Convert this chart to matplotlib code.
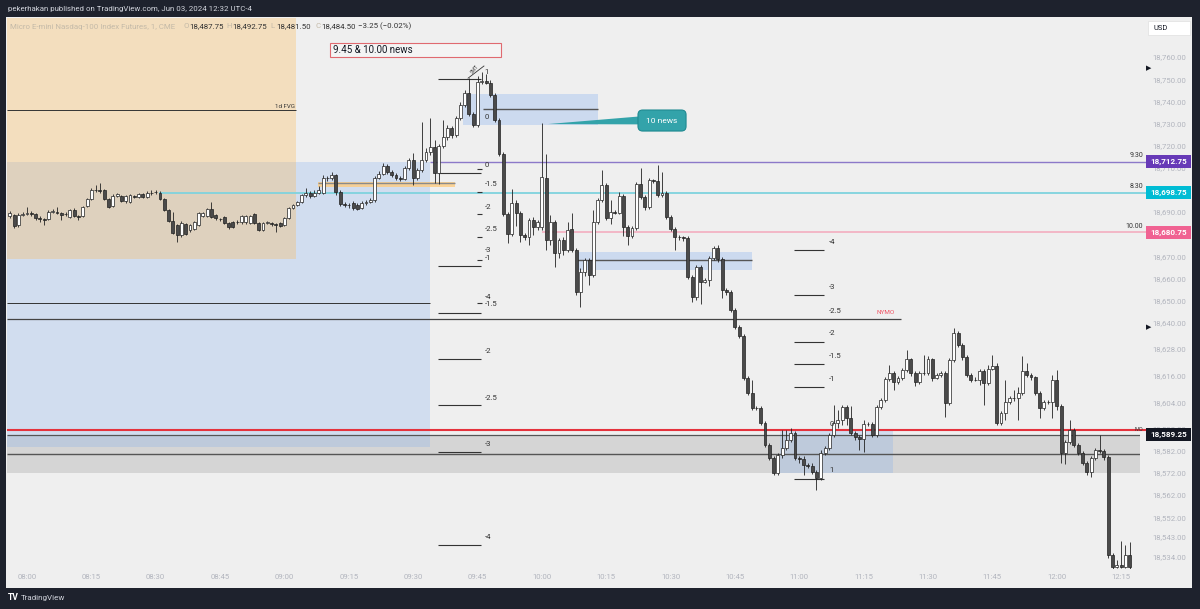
import numpy as np
import pandas as pd
import matplotlib.pyplot as plt
import matplotlib.transforms as mtrans
from matplotlib.patches import Rectangle, Polygon, FancyBboxPatch

plt.rcParams['font.family'] = ['Roboto', 'DejaVu Sans']

# 1-minute MNQ candles, 07:56 -> 12:17
opens = [
    18688.25, 18688.5, 18684, 18688.5, 18689, 18689.5, 18689, 18687.25, 18686.75, 18686.75,
    18690, 18690, 18689.5, 18689, 18687.75, 18691, 18688.25, 18688.25, 18692.75, 18696,
    18700, 18699.75, 18700, 18696, 18692.75, 18697.25, 18697.25, 18695, 18694.5, 18697.25,
    18696.75, 18698, 18696.75, 18698.5, 18699, 18698.5, 18696, 18691, 18686, 18684,
    18679.5, 18684.5, 18681.75, 18682.25, 18684, 18688.25, 18688.25, 18691.25, 18688.5, 18686.75,
    18687.75, 18685, 18685.5, 18685.5, 18685.5, 18685.5, 18685, 18689, 18685, 18681.75,
    18685, 18685, 18684.5, 18685, 18684, 18687.25, 18691.75, 18693,
    18694.5, 18697.75, 18698.5, 18697.25, 18698.5, 18698.5, 18705.25, 18705.5, 18706.75, 18699,
    18693.5, 18693.25, 18694, 18693.25, 18691.75, 18694, 18694.5, 18695.5, 18705.25, 18707.25,
    18710.75, 18708, 18706.75, 18705.25, 18705, 18709.75, 18713.5, 18705.25, 18709, 18713.5,
    18717, 18719.25, 18707.5, 18719.75, 18724, 18728, 18724.75, 18732.5, 18738.25, 18743.75,
    18734.25, 18729.25, 18748.75, 18749, 18748.5, 18742.75, 18731.5, 18716.25, 18689, 18680,
    18694, 18689.5, 18679.5, 18678.75, 18686.25, 18683.25, 18683.25, 18705.25, 18677.25, 18685.5,
    18671.5, 18677.25, 18672.75, 18682.5, 18672.75, 18653.75, 18663, 18668.25, 18661.5, 18685.5,
    18695.5, 18702.25, 18687.25, 18690, 18689.75, 18697.25, 18683.25, 18679, 18682.75, 18702.5,
    18696.75, 18692.25, 18704.5, 18704, 18697.75, 18698.5, 18687.75, 18682.25, 18678.75, 18678.5,
    18678.25, 18660.5, 18651.5, 18665, 18658.25, 18659.25, 18669.25, 18673.75, 18668.75, 18654.75,
    18653.75, 18645.75, 18638, 18634, 18615, 18608.25, 18601.5, 18601.25, 18594.5, 18584.75,
    18578.75, 18572, 18580.25, 18583.25, 18587, 18590, 18578.75, 18578.5, 18575.5, 18575.25,
    18572.5, 18569.75, 18581, 18583.25, 18589.25, 18594.5, 18596, 18602, 18597, 18590,
    18588.25, 18587.5, 18594.25, 18594, 18589.25, 18602, 18605, 18614.5, 18617.25, 18613,
    18614.75, 18618.5, 18623.5, 18617.25, 18613, 18617.25, 18617, 18623.5, 18614.75, 18616.25,
    18617.25, 18603.75, 18623, 18635.25, 18629.75, 18624.5, 18616.25, 18614, 18614.25, 18618,
    18612.75, 18619, 18620.25, 18594.5, 18599, 18604, 18606, 18605.75, 18608.25, 18618,
    18616.25, 18615.25, 18608.25, 18601.5, 18604, 18604.25, 18614, 18602.25, 18581, 18586,
    18591.5, 18584.75, 18581, 18576.5, 18572.5, 18578.75, 18582.5, 18582, 18579.25, 18535,
    18529.5, 18530.5, 18529.5, 18535,
]
highs = [
    18690.5, 18689, 18689.5, 18690, 18692.25, 18690.5, 18689.5, 18688.25, 18687.25, 18690.75,
    18691.25, 18692.25, 18690, 18690, 18691.25, 18691.75, 18688.5, 18692.75, 18696.25, 18700.75,
    18702.25, 18703, 18700.5, 18696.25, 18698, 18698.5, 18697.75, 18697.75, 18698, 18697.75,
    18698.5, 18698.5, 18699.5, 18700, 18700, 18699.5, 18696.25, 18691.25, 18690, 18684.5,
    18686, 18685, 18684.5, 18686, 18690, 18690, 18691.75, 18694.5, 18689, 18687.25,
    18688.25, 18685.5, 18686, 18686.5, 18688.5, 18688.5, 18688.5, 18689.5, 18685.5, 18685.5,
    18685.75, 18685.5, 18685, 18685.5, 18687.75, 18692.25, 18693.5, 18695,
    18698, 18700.75, 18699.5, 18700, 18701.75, 18706.75, 18706.25, 18708, 18707.25, 18700,
    18694.5, 18694, 18695, 18694, 18695, 18695.5, 18696.25, 18706.25, 18708.5, 18712,
    18711.75, 18709, 18707.5, 18706.25, 18710.75, 18714.5, 18716.75, 18709.75, 18730.75, 18719,
    18732.5, 18722.5, 18720.75, 18731.5, 18729.25, 18728.75, 18733.25, 18739.75, 18745, 18750.5,
    18735.25, 18751.5, 18753.25, 18752.5, 18749.75, 18743.75, 18732.5, 18717, 18690, 18700.25,
    18695.5, 18690.5, 18680.5, 18687.25, 18687.75, 18686.25, 18730.25, 18716.25, 18688.5, 18686.25,
    18678.25, 18678.75, 18685.5, 18689.5, 18673.75, 18664.75, 18669.25, 18669.25, 18690.75, 18696.25,
    18709, 18703, 18695.5, 18690.75, 18699, 18698, 18684, 18683.75, 18703.5, 18709.75,
    18697.75, 18705.25, 18705, 18711.25, 18708, 18699.5, 18688.5, 18683.25, 18679.5, 18679,
    18679, 18661.5, 18666, 18666, 18660.25, 18670, 18674.5, 18675, 18669.75, 18655.5,
    18654.75, 18646.5, 18639, 18634.75, 18615.75, 18614, 18602.25, 18602.25, 18595.5, 18585.5,
    18579.75, 18581, 18591.5, 18591.5, 18592.25, 18591, 18579.75, 18579.75, 18576.5, 18576.5,
    18573.25, 18582.5, 18584.25, 18590, 18602.75, 18600.5, 18602.75, 18602.75, 18602.25, 18591,
    18589.25, 18596, 18595, 18595, 18602.75, 18606, 18615.5, 18620.75, 18618, 18615.75,
    18619.5, 18627.5, 18624, 18618, 18618, 18625.25, 18624.75, 18624, 18617.25, 18618,
    18618, 18624, 18637.5, 18636.25, 18630.75, 18625.25, 18617.25, 18615.5, 18619, 18619,
    18620.75, 18625.25, 18621.75, 18600, 18614, 18606.75, 18609.5, 18611, 18624.75, 18621.75,
    18617.25, 18615.75, 18609, 18605, 18605, 18616.25, 18618.5, 18603.25, 18587, 18596,
    18592.25, 18585.5, 18582, 18577.5, 18579.75, 18583.25, 18589.25, 18582.75, 18580.25, 18535.75,
    18532.75, 18541.25, 18539.5, 18540.75,
]
lows = [
    18687.25, 18682.75, 18683.25, 18688.25, 18688.5, 18688.25, 18686.5, 18685.5, 18684, 18686.5,
    18689.5, 18689, 18686.5, 18688.25, 18687.25, 18687.75, 18686.5, 18687.75, 18692.25, 18695.5,
    18699, 18698.5, 18695.5, 18691.75, 18692.25, 18696.75, 18694.5, 18694, 18694, 18696.25,
    18696.25, 18696.25, 18696.25, 18697.75, 18698, 18695.5, 18690.5, 18685.5, 18680, 18676.5,
    18678.75, 18679.5, 18681, 18681.75, 18683.5, 18687.75, 18687.75, 18687.25, 18686.5, 18686,
    18684.5, 18682.25, 18682.75, 18684.5, 18684.5, 18684.5, 18684.5, 18684.5, 18681.5, 18681.5,
    18684.5, 18683.5, 18681, 18683.25, 18683.5, 18686.75, 18691.25, 18692.75,
    18694, 18696.75, 18696.25, 18696.75, 18698, 18698, 18704, 18704.5, 18697.75, 18692.75,
    18692.25, 18691.75, 18690.75, 18690.75, 18691.25, 18693, 18694, 18694.5, 18705, 18706.75,
    18707.25, 18705.75, 18704.5, 18704, 18704.5, 18709, 18702.25, 18704.5, 18708, 18712.5,
    18715.75, 18703, 18702.75, 18719, 18722.5, 18723.5, 18724, 18731.5, 18737.5, 18733.25,
    18728.5, 18728.5, 18747.75, 18747.75, 18742, 18730.75, 18715.25, 18688.25, 18676, 18679,
    18683.75, 18676.5, 18677.25, 18675, 18679.5, 18681.75, 18681.75, 18672.75, 18675, 18665,
    18669.25, 18670.5, 18672, 18672, 18652.5, 18647, 18661, 18657, 18660.5, 18684.5,
    18694.5, 18686.25, 18684.5, 18689, 18689, 18679, 18675, 18678.25, 18681.75, 18695.75,
    18690.75, 18691.25, 18703, 18696.75, 18696.75, 18686.75, 18681.5, 18672.75, 18677.25, 18676.75,
    18659.75, 18649.25, 18650.25, 18648.5, 18657.75, 18656.5, 18668.25, 18667.5, 18651, 18652.5,
    18644.75, 18637, 18633, 18614, 18607.25, 18600.5, 18600.5, 18593.75, 18583.75, 18577.75,
    18571, 18571, 18578.75, 18582.5, 18586, 18577.75, 18576.5, 18571, 18574.25, 18571.5,
    18564.25, 18568.75, 18580.25, 18582.5, 18588.25, 18592.25, 18593.75, 18593.75, 18589.25, 18587,
    18582.5, 18581.5, 18593.25, 18588.25, 18588.25, 18601, 18604, 18613.5, 18609.5, 18612.25,
    18614, 18617.75, 18615.75, 18611.25, 18612.25, 18616.25, 18616.25, 18613.5, 18614.5, 18615.5,
    18597.25, 18602.75, 18622.25, 18629, 18623, 18615.5, 18613, 18613.5, 18611.75, 18602.75,
    18611.75, 18618.5, 18593.75, 18593.75, 18596, 18603.25, 18604.5, 18596, 18607.25, 18615.5,
    18614, 18607.25, 18597, 18600.5, 18603.25, 18597, 18600.5, 18576.5, 18576, 18585,
    18583.75, 18580.25, 18575.5, 18571, 18570.25, 18577.75, 18581, 18577.75, 18533.5, 18528.5,
    18529, 18529, 18529, 18528.5,
]
closes = [
    18689.5, 18683.75, 18688.5, 18689, 18689.5, 18689, 18687.25, 18686.75, 18686.5, 18690,
    18690.5, 18689.5, 18688.5, 18689, 18691, 18688.25, 18687.75, 18692.25, 18696, 18700,
    18699.75, 18699.5, 18696, 18692.25, 18697.25, 18698, 18695, 18697.25, 18697.75, 18696.75,
    18698, 18696.75, 18698.5, 18698.75, 18699.25, 18696, 18691, 18686, 18680.5, 18679.5,
    18685, 18680, 18684, 18685.5, 18689.5, 18689.5, 18691.25, 18687.75, 18687.25, 18687,
    18685, 18683.25, 18683.25, 18685.25, 18688.25, 18688.25, 18688.25, 18685, 18681.75, 18685,
    18685.25, 18684.5, 18684.25, 18683.75, 18687.25, 18691.75, 18693, 18694.5,
    18697.75, 18698.5, 18697.25, 18698.5, 18700, 18705.25, 18705.5, 18706.75, 18699, 18693.5,
    18693.25, 18693, 18691.75, 18691.5, 18694, 18694.5, 18695.5, 18705.25, 18707.25, 18710.75,
    18708, 18706.75, 18705.25, 18705, 18709.75, 18713.5, 18705.25, 18709, 18713.5, 18717,
    18719.25, 18707.5, 18719.75, 18724, 18728, 18724.75, 18732.5, 18738.25, 18743.75, 18734.25,
    18729.25, 18748.75, 18749, 18748.5, 18742.75, 18731.5, 18716.25, 18689, 18680, 18694,
    18689.5, 18679.5, 18678.75, 18686.25, 18683.25, 18685.5, 18705.75, 18677.25, 18685.5, 18671.5,
    18677.25, 18672.75, 18681.75, 18672.75, 18653.75, 18663, 18668.25, 18661.5, 18685.5, 18695.5,
    18702.25, 18687.25, 18690, 18689.75, 18697.25, 18683.25, 18679, 18682.75, 18702.5, 18696.75,
    18692.25, 18704.5, 18704, 18697.75, 18698.5, 18687.75, 18682.25, 18678.75, 18678.5, 18678.25,
    18660.5, 18651.5, 18665, 18658.25, 18659.25, 18669.25, 18673.75, 18668.75, 18654.75, 18653.75,
    18645.75, 18638, 18634, 18615, 18608.25, 18601.5, 18601.25, 18594.5, 18584.75, 18578.75,
    18572, 18580.25, 18583.25, 18587, 18590, 18578.75, 18578.5, 18575.5, 18575.25, 18572.5,
    18569.75, 18581, 18583.25, 18589.25, 18594.5, 18596, 18602, 18597, 18590, 18588.25,
    18587.5, 18594.25, 18594, 18589.25, 18602, 18605, 18614.5, 18617.25, 18613, 18614.75,
    18618.5, 18623.5, 18617.25, 18613, 18617.25, 18617, 18623.5, 18614.75, 18616.25, 18617.25,
    18603.75, 18623, 18635.25, 18629.75, 18624.5, 18616.25, 18614, 18614.25, 18618, 18612.75,
    18619, 18620.25, 18594.5, 18599, 18604, 18606, 18605.75, 18608.25, 18618, 18616.25,
    18615.25, 18608.25, 18601.5, 18604, 18604.25, 18614, 18602.25, 18581, 18586, 18591.5,
    18584.75, 18581, 18576.5, 18572.5, 18578.75, 18582.5, 18582, 18579.25, 18535, 18529.5,
    18530.5, 18529.5, 18535, 18529.5,
]

times = pd.date_range('2024-06-03 07:56', periods=len(closes), freq='min')
session_start = pd.Timestamp('2024-06-03 08:00')
tick_times = pd.date_range('2024-06-03 08:00', '2024-06-03 12:15', freq='15min')
price_ticks = [18760, 18750, 18740, 18730, 18720, 18710, 18690, 18670,
               18660, 18650, 18640, 18628, 18616, 18604, 18592, 18582, 18572, 18562,
               18552, 18543, 18534]

# drawn levels
level_930 = 18712.75
level_830 = 18698.75
level_1000 = 18680.75
level_black = 18589.25
level_red = 18591.25
range_low = 18572.0
range_mid = 18580.5
fvg_bottom = 18668.75
fvg_line = 18736.0
left_fib_long = [18749.9, 18707.75, 18665.75, 18644.5, 18623.75, 18602.75, 18581.5, 18539.5]
left_fib_short = [18709.5, 18699.0, 18689.0, 18678.75, 18668.5, 18648.75]
left_fib_labels = [('1', 18753.25), ('0', 18733.0), ('0', 18711.25), ('-1.5', 18702.6),
                   ('-2', 18692.2), ('-2.5', 18682.3), ('-3', 18672.6), ('-1', 18669.0),
                   ('-4', 18651.5), ('-1.5', 18648.2), ('-2', 18627.1), ('-2.5', 18605.9),
                   ('-3', 18585.1), ('-4', 18543.1)]
right_fib_lines = [18673.0, 18652.25, 18631.25, 18621.25, 18610.75, 18569.25]
right_fib_labels = [('-4', 18676.6), ('-3', 18656.0), ('-2.5', 18645.4), ('-2', 18635.1),
                    ('-1.5', 18624.9), ('-1', 18614.3), ('0', 18594.0), ('1', 18573.4)]

W, H = 1200, 609
def fx(px):
    return px / W
def fy(py):
    return 1 - py / H

fig = plt.figure(figsize=(12, 6.09), dpi=100, facecolor='#1e222d')
fig.add_artist(Rectangle((fx(6), fy(588)), fx(1192) - fx(6), fy(17) - fy(588),
                         transform=fig.transFigure, facecolor='#efefef', edgecolor='none', zorder=-10))
ax = fig.add_axes([fx(7), fy(569), fx(1140) - fx(7), fy(18) - fy(569)], facecolor='#efefef')

x = ((times - session_start) / pd.Timedelta(minutes=1)).values
o = np.array(opens); h = np.array(highs); l = np.array(lows); c = np.array(closes)
x0, x1 = -4.66, 259.4
ax.set_xlim(x0, x1)
ax.set_ylim(18528.6, 18777.7)

# zones
blue = '#7babef'
ax.add_patch(Rectangle((x0, range_low), x1 - x0, level_black - range_low, fc='#bdbdbd', alpha=0.5, ec='none', zorder=1))
ax.add_patch(Rectangle((x0, 18583.75), 93.9 - x0, level_930 - 18583.75, fc=blue, alpha=0.25, ec='none', zorder=1))
ax.add_patch(Rectangle((x0, fvg_bottom), 62.7 - x0, 18800 - fvg_bottom, fc='#ffb74d', alpha=0.3, ec='none', zorder=1.2))
ax.add_patch(Rectangle((101.6, 18729.25), 133 - 101.6, 14.0, fc=blue, alpha=0.3, ec='none', zorder=1))
ax.add_patch(Rectangle((128, 18664.0), 41, 8.0, fc=blue, alpha=0.3, ec='none', zorder=1))
ax.add_patch(Rectangle((175.5, range_low), 26.4, level_red - range_low, fc=blue, alpha=0.25, ec='none', zorder=1))
ax.add_patch(Rectangle((67.8, 18701.5), 32, 2.2, fc='#ffcc80', alpha=0.8, ec='none', zorder=1.5))

# lines
ax.hlines(fvg_line, x0, 62.7, color='#333333', lw=0.7, zorder=2)
ax.text(62.4, fvg_line + 0.6, '1d FVG', fontsize=4.4, color='#333333', ha='right', va='bottom', zorder=3)
ax.hlines(18702.9, 67.8, 99.8, color='#8a8a8a', lw=1.0, zorder=2)
ax.hlines(18736.5, 106.3, 133, color='#555555', lw=1.0, zorder=2)
ax.hlines(18668.4, 128, 169, color='#555555', lw=1.0, zorder=2)
ax.hlines(18649.0, x0, 93.9, color='#333333', lw=0.7, zorder=2)
ax.hlines(18641.5, x0, 203.7, color='#444444', lw=0.9, zorder=2)
ax.text(200.0, 18643.3, 'NYMO', fontsize=4.6, color='#f05060', ha='center', va='bottom', zorder=3)
ax.hlines(level_930, 93.9, 260.8, color='#8c79c9', lw=1.0, zorder=2, clip_on=False)
ax.hlines(level_830, 30.8, 260.8, color='#7fd3de', lw=1.3, zorder=2, clip_on=False)
ax.hlines(level_1000, 120, 260.8, color='#f3a8bb', lw=1.1, zorder=2, clip_on=False)
ax.hlines(level_red, x0, 260.8, color='#e5323c', lw=1.5, zorder=3, clip_on=False)
ax.hlines(level_black, x0, x1, color='#555555', lw=0.9, zorder=3)
ax.hlines(range_mid, x0, x1, color='#555555', lw=1.0, zorder=3)

# fib ladders
ax.hlines(left_fib_long, 95.8, 105.8, color='#333333', lw=0.8, zorder=3)
ax.hlines(left_fib_short, 104.9, 106.1, color='#333333', lw=0.8, zorder=3)
for txt, p in left_fib_labels:
    ax.text(106.6, p, txt, fontsize=5.6, color='#333333', ha='left', va='center', zorder=6)
ax.hlines(right_fib_lines, 178.8, 185.8, color='#333333', lw=0.8, zorder=3)
for txt, p in right_fib_labels:
    ax.text(187.0, p, txt, fontsize=5.6, color='#333333', ha='left', va='center', zorder=6)

# SMT mark at the high
ax.plot([102.8, 106.5], [18750.5, 18756.0], color='#333333', lw=0.6, zorder=6)
ax.text(104.3, 18754.6, 'SMT', fontsize=3.4, color='#333333', rotation=50, ha='center', va='center', zorder=6)

# candles
up = c >= o
body_lo = np.minimum(o, c)
body_h = np.maximum(np.abs(c - o), 0.25)
ax.vlines(x, l, h, color='#222222', lw=0.6, zorder=4)
ax.bar(x, body_h, bottom=body_lo, width=0.68, color=np.where(up, '#ffffff', '#4a4a4a'),
       edgecolor='#222222', linewidth=0.5, zorder=5)

# "10 news" callout
teal = '#33a3aa'
ax.add_patch(Polygon([(121.4, 18729.75), (142.8, 18733.2), (142.8, 18729.6)], closed=True,
                     fc=teal, ec='none', zorder=7))
ax.add_patch(FancyBboxPatch((142.4, 18726.6), 11.2, 9.5, boxstyle='round,pad=0,rounding_size=1.1',
                            mutation_aspect=1.94, fc=teal, ec='#1f8a91', lw=0.8, zorder=7))
ax.text(148.0, 18731.35, '10 news', fontsize=6.0, color='white', ha='center', va='center', zorder=8)

# axes styling
for s in ax.spines.values():
    s.set_visible(False)
ax.set_xticks(((tick_times - session_start) / pd.Timedelta(minutes=1)).values)
ax.set_xticklabels(tick_times.strftime('%H:%M'))
ax.yaxis.tick_right()
ax.set_yticks(price_ticks)
ax.set_yticklabels([f'{v:,.2f}' for v in price_ticks])
ax.tick_params(axis='x', length=0, pad=3.5, labelsize=5.6, labelcolor='#b2b5be')
ax.tick_params(axis='y', length=0, pad=9, labelsize=5.6, labelcolor='#b2b5be')

# price tags on the right scale
trans = mtrans.blended_transform_factory(fig.transFigure, ax.transData)
tags = [(level_930, '#673ab7', '18,712.75', '9.30'),
        (level_830, '#00bcd4', '18,698.75', '8.30'),
        (level_1000, '#f06292', '18,680.75', '10.00'),
        (level_black, '#131722', '18,589.25', 'MO')]
for p, col, txt, name in tags:
    fig.add_artist(Rectangle((fx(1146), p - 2.9), fx(1191) - fx(1146), 5.8, transform=trans,
                             fc=col, ec='none', zorder=5))
    fig.text(fx(1168.5), p, txt, transform=trans, fontsize=5.8, fontweight='bold',
             color='white', ha='center', va='center', zorder=6)
    fig.text(fx(1143), p + 1.3, name, transform=trans, fontsize=4.0 if name == 'MO' else 5.0,
             color='#333333', ha='right', va='bottom', zorder=6)

# USD box and markers
fig.add_artist(Rectangle((fx(1148), fy(35)), fx(1190) - fx(1148), fy(21) - fy(35),
                         transform=fig.transFigure, fc='white', ec='#e0e0e0', lw=0.5, zorder=5))
fig.text(fx(1153), fy(28), 'USD', fontsize=5.4, color='#131722', va='center', zorder=6)
for py in (68, 327):
    fig.text(fx(1146), fy(py), '\u25B6', fontsize=5, color='#131722', va='center',
             family=['DejaVu Sans'], zorder=6)

# note box
fig.add_artist(Rectangle((fx(330), fy(57)), fx(501) - fx(330), fy(43) - fy(57),
                         transform=fig.transFigure, fc='#f4f4f4', ec='#e06a70', lw=0.8, zorder=5))
fig.text(fx(333), fy(50), '9.45 & 10.00 news', fontsize=7.0, color='#131722', va='center', zorder=6)

# header texts
fig.text(fx(8), fy(9), 'pekerhakan published on TradingView.com, Jun 03, 2024 12:32 UTC-4',
         fontsize=5.7, color='#d1d4dc', va='center')
hy = fy(26.5)
fig.text(fx(10), hy, 'Micro E-mini Nasdaq-100 Index Futures, 1, CME', fontsize=5.7, color='#c4baa8', va='center')
for px_l, px_v, lab, val in [(183, 189, 'O', '18,487.75'), (226, 232, 'H', '18,492.75'),
                             (270, 276, 'L', '18,481.50'), (315, 321, 'C', '18,484.50')]:
    fig.text(fx(px_l), hy, lab, fontsize=5.7, color='#c4baa8', va='center')
    fig.text(fx(px_v), hy, val, fontsize=5.7, color='#333333', va='center')
fig.text(fx(358), hy, '\u22123.25 (\u22120.02%)', fontsize=5.7, color='#333333', va='center')

# footer
fig.text(fx(8), fy(598), 'TV', fontsize=6.2, fontweight='bold', color='white', va='center')
fig.text(fx(21), fy(598), 'TradingView', fontsize=5.8, color='#d1d4dc', va='center')

fig.savefig('out.png', dpi=100, facecolor=fig.get_facecolor())
